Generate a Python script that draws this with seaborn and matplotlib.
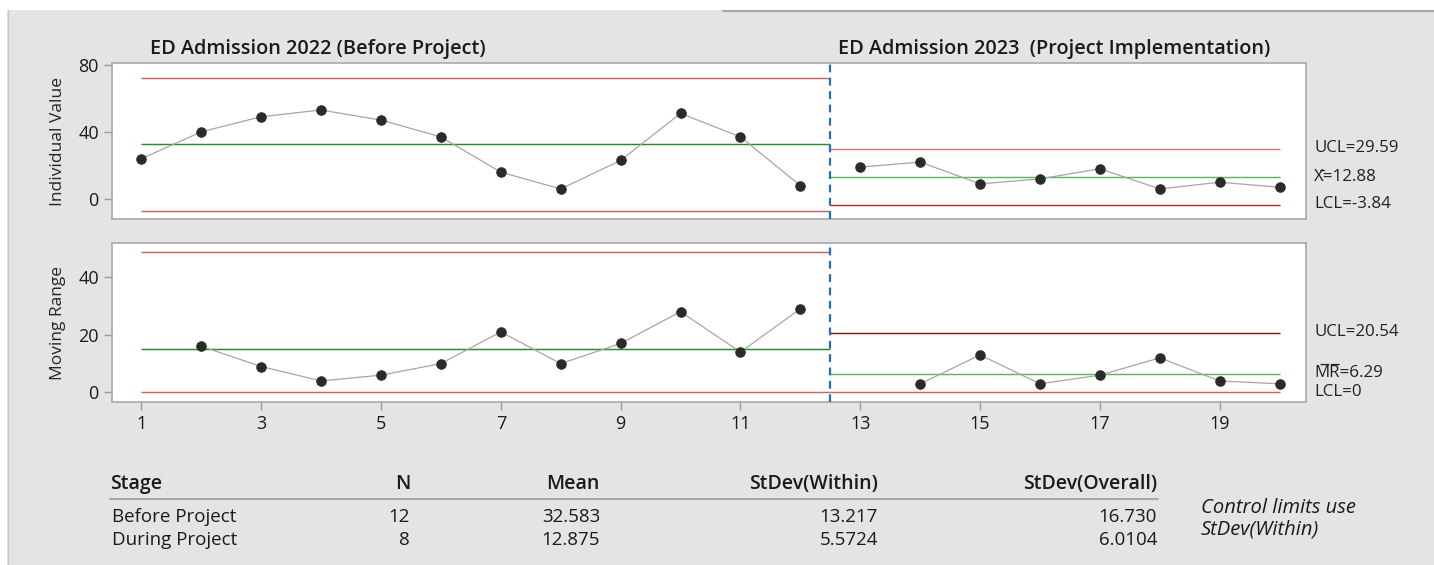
import matplotlib
matplotlib.use("Agg")
import matplotlib.pyplot as plt
import seaborn as sns
from matplotlib.patches import Rectangle
from matplotlib.lines import Line2D

# ---- data -------------------------------------------------------------
obs_before = [24, 40, 49, 53, 47, 37, 16, 6, 23, 51, 37, 8]
obs_during = [19, 22, 9, 12, 18, 6, 10, 7]
mr_before = [16, 9, 4, 6, 10, 21, 10, 17, 28, 14, 29]
mr_during = [3, 13, 3, 6, 12, 4, 3]

# control limits: (UCL, centre, LCL)
i_limits_before = (72.23, 32.583, -7.07)
i_limits_during = (29.59, 12.88, -3.84)
mr_limits_before = (48.71, 14.91, 0.0)
mr_limits_during = (20.54, 6.29, 0.0)

stage_titles = ["ED Admission 2022 (Before Project)",
                "ED Admission 2023  (Project Implementation)"]

i_labels = ["UCL=29.59", "X\u0304=12.88", "LCL=-3.84"]
mr_labels = ["UCL=20.54", "M\u0305R\u0305=6.29", "LCL=0"]

table_header = ["Stage", "N", "Mean", "StDev(Within)", "StDev(Overall)"]
table_stage = ["Before Project", "During Project"]
table_n = ["12", "8"]
table_mean = ["32.583", "12.875"]
table_sd_within = ["13.217", "5.5724"]
table_sd_overall = ["16.730", "6.0104"]
table_note = ["Control limits use", "StDev(Within)"]

# ---- style ------------------------------------------------------------
sns.set_theme(style="white")
plt.rcParams["font.family"] = ["Open Sans", "DejaVu Sans"]
plt.rcParams["text.color"] = "#1a1a1a"

W, H = 1434, 565
fig = plt.figure(figsize=(W / 100, H / 100), dpi=100, facecolor="white")

BG = "#e4e4e4"
fig.patches.append(Rectangle((7 / W, 0), 1 - 7 / W, 1 - 10 / H,
                             transform=fig.transFigure, facecolor=BG,
                             edgecolor="none", zorder=-10))
fig.lines.append(Line2D([7.5 / W, 7.5 / W], [0, 1 - 10 / H],
                        transform=fig.transFigure, color="#c8c8c8", lw=1))
fig.lines.append(Line2D([723 / W, 1], [1 - 10.5 / H, 1 - 10.5 / H],
                        transform=fig.transFigure, color="#a8a8a8", lw=1.5))


def fx(px):
    return px / W


def fy(py):
    return 1 - py / H


ax_left, ax_right = 112, 1306
ax_i = fig.add_axes([fx(ax_left), fy(219), fx(ax_right - ax_left), (219 - 63) / H])
ax_mr = fig.add_axes([fx(ax_left), fy(402), fx(ax_right - ax_left), (402 - 243) / H])

x_before = list(range(1, len(obs_before) + 1))
x_during = list(range(len(obs_before) + 1, len(obs_before) + len(obs_during) + 1))
x_mr_before = x_before[1:]
x_mr_during = x_during[1:]
split = len(obs_before) + 0.5

RED_B = "#c86464"
RED_D_I = "#d27a7a"
RED_D_LCL = "#b82a2a"
RED_D_MR = "#7a1c1c"
GREEN_B = "#2a8a2a"
GREEN_D = "#5cb85c"
DOT = "#2a2a2a"
CONN = "#a6a6a6"


def draw_limits(ax, lims, x0, x1, colors):
    for y, c in zip(lims, colors):
        ax.hlines(y, x0, x1, color=c, lw=1.05, zorder=1)


def draw_series(ax, xs, ys):
    sns.lineplot(x=xs, y=ys, ax=ax, color=CONN, lw=0.9, marker="o",
                 markersize=6.8, markerfacecolor=DOT, markeredgecolor=DOT,
                 zorder=3)


for ax in (ax_i, ax_mr):
    ax.set_facecolor("white")
    for s in ax.spines.values():
        s.set_color("#a9a9a9")
        s.set_linewidth(1.2)
    ax.axvline(split, color="#1f6fc4", lw=1.6, ls=(0, (3.5, 2.5)), zorder=4)
    ax.set_xlim(0.51, 20.44)
    ax.tick_params(axis="both", colors="#9a9a9a", labelcolor="#1a1a1a",
                   labelsize=13, length=6, width=1, direction="out",
                   left=True, bottom=True)

# Individual values chart
draw_limits(ax_i, i_limits_before, 1, split, [RED_B, GREEN_B, RED_B])
draw_limits(ax_i, i_limits_during, split, x_during[-1],
            [RED_D_I, GREEN_D, RED_D_LCL])
draw_series(ax_i, x_before, obs_before)
draw_series(ax_i, x_during, obs_during)
ax_i.set_ylim(-11.9, 81.0)
ax_i.set_yticks([0, 40, 80])
ax_i.set_xticks([])
ax_i.tick_params(axis="x", bottom=False, labelbottom=False)
ax_i.set_ylabel("Individual Value", fontsize=12.5, labelpad=9)

# Moving range chart
draw_limits(ax_mr, mr_limits_before, 1, split, [RED_B, GREEN_B, RED_B])
draw_limits(ax_mr, mr_limits_during, split, x_during[-1],
            [RED_D_MR, GREEN_D, RED_B])
draw_series(ax_mr, x_mr_before, mr_before)
draw_series(ax_mr, x_mr_during, mr_during)
ax_mr.set_ylim(-3.3, 51.8)
ax_mr.set_yticks([0, 20, 40])
ax_mr.set_xticks(list(range(1, 20, 2)))
ax_mr.set_ylabel("Moving Range", fontsize=12.5, labelpad=9)

# stage titles
fig.text(fx(150), fy(49), stage_titles[0], fontsize=14.3, weight="semibold",
         va="center", ha="left")
fig.text(fx(838), fy(49), stage_titles[1], fontsize=14.3, weight="semibold",
         va="center", ha="left")

# limit labels at the right
for txt, py in zip(i_labels, [148, 177, 204]):
    fig.text(fx(1314), fy(py), txt, fontsize=12.2, va="center", ha="left",
             color="#222222")
for txt, py in zip(mr_labels, [332, 373, 392]):
    fig.text(fx(1314), fy(py), txt, fontsize=12.2, va="center", ha="left",
             color="#222222")

# statistics table
col_right = [None, 410, 600, 878, 1157]
fig.text(fx(110), fy(484), table_header[0], fontsize=14, weight="semibold",
         va="center", ha="left")
for h, xr in zip(table_header[1:], col_right[1:]):
    fig.text(fx(xr), fy(484), h, fontsize=14, weight="semibold",
             va="center", ha="right")
fig.lines.append(Line2D([fx(110), fx(1158)], [fy(499), fy(499)],
                        transform=fig.transFigure, color="#a8a8a8", lw=1.5))
for i, py in enumerate([517, 540]):
    fig.text(fx(112), fy(py), table_stage[i], fontsize=13.5, va="center", ha="left")
    fig.text(fx(410), fy(py), table_n[i], fontsize=13.5, va="center", ha="right")
    fig.text(fx(600), fy(py), table_mean[i], fontsize=13.5, va="center", ha="right")
    fig.text(fx(878), fy(py), table_sd_within[i], fontsize=13.5, va="center", ha="right")
    fig.text(fx(1157), fy(py), table_sd_overall[i], fontsize=13.5, va="center", ha="right")
fig.text(fx(1201), fy(508), table_note[0], fontsize=14.5, style="italic",
         va="center", ha="left")
fig.text(fx(1201), fy(530), table_note[1], fontsize=14.5, style="italic",
         va="center", ha="left")

fig.savefig("out.png", dpi=100, facecolor=fig.get_facecolor())
